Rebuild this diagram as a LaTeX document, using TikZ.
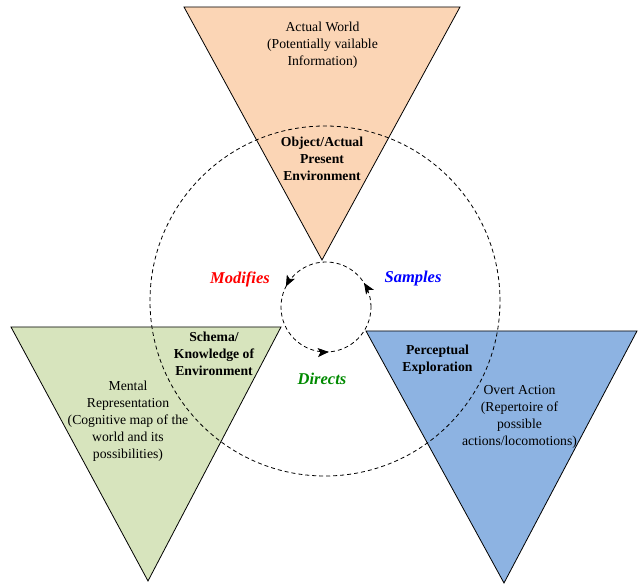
\documentclass[tikz,border=0pt]{standalone}
\usepackage{fontspec}
\setmainfont{Liberation Serif}
\usetikzlibrary{arrows.meta,decorations.markings}
\definecolor{topfill}{HTML}{FBD5B5}
\definecolor{leftfill}{HTML}{D7E4BD}
\definecolor{rightfill}{HTML}{8DB3E2}
\definecolor{modred}{HTML}{FF0000}
\definecolor{sampblue}{HTML}{0000FF}
\definecolor{dirgreen}{HTML}{008A00}
\tikzset{
  tri/.style={draw=black, line width=0.8pt, line join=miter},
  ring/.style={draw=black, line width=0.8pt, dash pattern=on 4pt off 3pt},
  body/.style={align=center, inner sep=0pt, font=\fontsize{13.7}{17}\selectfont},
  head/.style={align=center, inner sep=0pt, font=\fontsize{13.7}{17}\selectfont\bfseries},
  verb/.style={inner sep=0pt, font=\fontsize{16.5}{20}\selectfont\bfseries\itshape},
  cyc/.tip={Stealth[length=11pt,width=9pt,inset=2.5pt]}
}
\begin{document}
\begin{tikzpicture}[x=1pt,y=1pt]
\useasboundingbox (0,0) rectangle (638,585);
% triangles
\coordinate (t1) at (184,578); \coordinate (t2) at (460,578); \coordinate (t3) at (322,325);
\coordinate (l1) at (11,258); \coordinate (l2) at (281,258); \coordinate (l3) at (148,4);
\coordinate (r1) at (366,254); \coordinate (r2) at (637,254); \coordinate (r3) at (504,2);
\path[tri, fill=topfill] (t1) -- (t2) -- (t3) -- cycle;
\path[tri, fill=leftfill] (l1) -- (l2) -- (l3) -- cycle;
\path[tri, fill=rightfill] (r1) -- (r2) -- (r3) -- cycle;
% big dashed circle
\coordinate (bigc) at (325,284);
\draw[ring] (bigc) circle (175);
% small cycle
\coordinate (smallc) at (326,278);
\draw[ring, postaction={decorate}, decoration={markings,
   mark=at position 0.09 with {\arrow{cyc}},
   mark=at position 0.425 with {\arrow{cyc}},
   mark=at position 0.76 with {\arrow{cyc}}}]
   (smallc) circle (45);
% texts
\node[body] (aw) at (322.5,540) {Actual World\\(Potentially vailable\\Information)};
\node[head] (obj) at (322,426) {Object/Actual\\Present\\Environment};
\node[head] (sch) at (214,231) {Schema/\\Knowledge of\\Environment};
\node[body] (men) at (128,164) {Mental\\Representation\\(Cognitive map of the\\world and its\\possibilities)};
\node[head] (per) at (437.5,225.5) {Perceptual\\Exploration};
\node[body] (ovt) at (519.5,168.5) {Overt Action\\(Repertoire of\\possible\\actions/locomotions)};
\node[verb, text=modred] (mod) at (240,306) {Modifies};
\node[verb, text=sampblue] (smp) at (413,306) {Samples};
\node[verb, text=dirgreen] (dir) at (322,206) {Directs};
\end{tikzpicture}
\end{document}
